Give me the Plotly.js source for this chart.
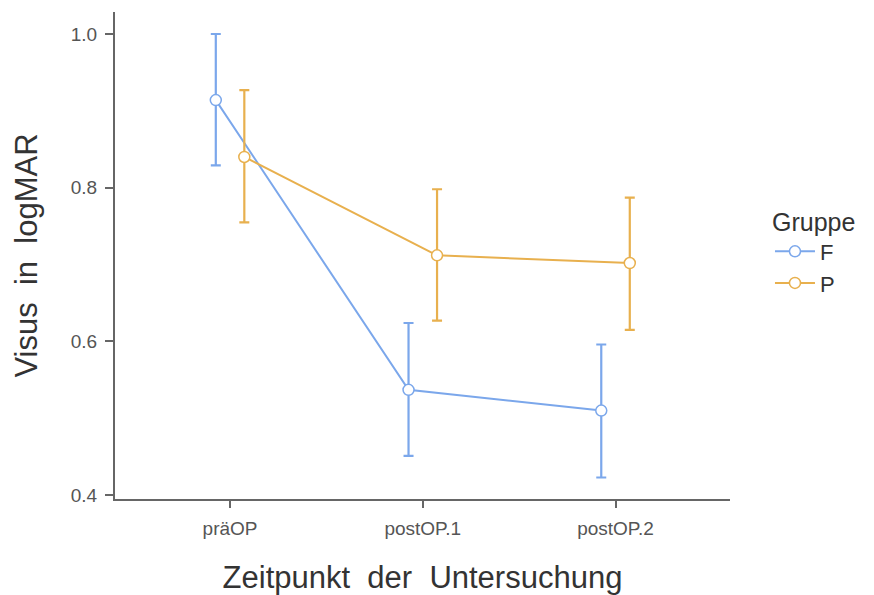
<!DOCTYPE html>
<html>
<head>
<meta charset="utf-8">
<script src="https://cdn.plot.ly/plotly-3.0.1.min.js"></script>
<style>
  html, body { margin: 0; padding: 0; background: #fff; }
  #chart { width: 874px; height: 595px; }
</style>
</head>
<body>
<div id="chart"></div>
<script>
// Visual acuity (logMAR) per examination time point, by group
const timepoints = ["präOP", "postOP.1", "postOP.2"];
const groups = ["F", "P"];

const meanF  = [0.914, 0.537, 0.510];
const upperF = [1.000, 0.624, 0.596];
const lowerF = [0.829, 0.451, 0.423];

const meanP  = [0.840, 0.712, 0.702];
const upperP = [0.927, 0.798, 0.787];
const lowerP = [0.755, 0.627, 0.615];

const colors = { F: "#7ba7eb", P: "#e8b04e" };
const dodge = 0.074;  // horizontal offset of each group around the category

const catPos = timepoints.map((_, i) => i + 1);

function groupTrace(name, mean, upper, lower, shift) {
  return {
    type: "scatter",
    mode: "lines+markers",
    name: name,
    legendgroup: name,
    x: catPos.map(p => p + shift),
    y: mean,
    line: { color: colors[name], width: 2 },
    marker: { symbol: "circle", size: 11, color: "#ffffff",
              line: { color: colors[name], width: 1.5 } },
    error_y: {
      type: "data", symmetric: false,
      array: upper.map((u, i) => u - mean[i]),
      arrayminus: mean.map((m, i) => m - lower[i]),
      color: colors[name], thickness: 2.2, width: 5
    },
    cliponaxis: false
  };
}

const data = [
  groupTrace("F", meanF, upperF, lowerF, -dodge),
  groupTrace("P", meanP, upperP, lowerP, dodge)
];

const layout = {
  width: 874, height: 595,
  paper_bgcolor: "#ffffff", plot_bgcolor: "#ffffff",
  margin: { l: 115, r: 144, t: 12, b: 96 },
  font: { family: "Liberation Sans, Arial, sans-serif", color: "#333" },
  xaxis: {
    range: [0.403, 3.594],
    tickvals: catPos, ticktext: timepoints,
    showgrid: false, zeroline: false,
    showline: true, linecolor: "#666", linewidth: 2,
    ticks: "outside", ticklen: 7, tickwidth: 2, tickcolor: "#666",
    ticklabelstandoff: 4,
    tickfont: { size: 19, color: "#555" },
    title: { text: "Zeitpunkt  der  Untersuchung", font: { size: 31, color: "#333" }, standoff: 30 }
  },
  yaxis: {
    range: [0.395, 1.0286],
    tickvals: [0.4, 0.6, 0.8, 1.0],
    tickformat: ".1f",
    showgrid: false, zeroline: false,
    showline: true, linecolor: "#666", linewidth: 2,
    ticks: "outside", ticklen: 8, tickwidth: 2, tickcolor: "#666",
    ticklabelstandoff: 4,
    tickfont: { size: 19, color: "#555" },
    title: { text: "Visus  in  logMAR", font: { size: 31, color: "#333" }, standoff: 24 }
  },
  legend: {
    x: 1.065, y: 0.618, xanchor: "left", yanchor: "top",
    title: { text: "Gruppe", font: { size: 25, color: "#333" } },
    font: { size: 22, color: "#333" },
    itemwidth: 40, tracegroupgap: 0, traceorder: "grouped",
    bgcolor: "rgba(0,0,0,0)"
  },
  showlegend: true
};

Plotly.newPlot("chart", data, layout, { displayModeBar: false, staticPlot: true });
</script>
</body>
</html>
